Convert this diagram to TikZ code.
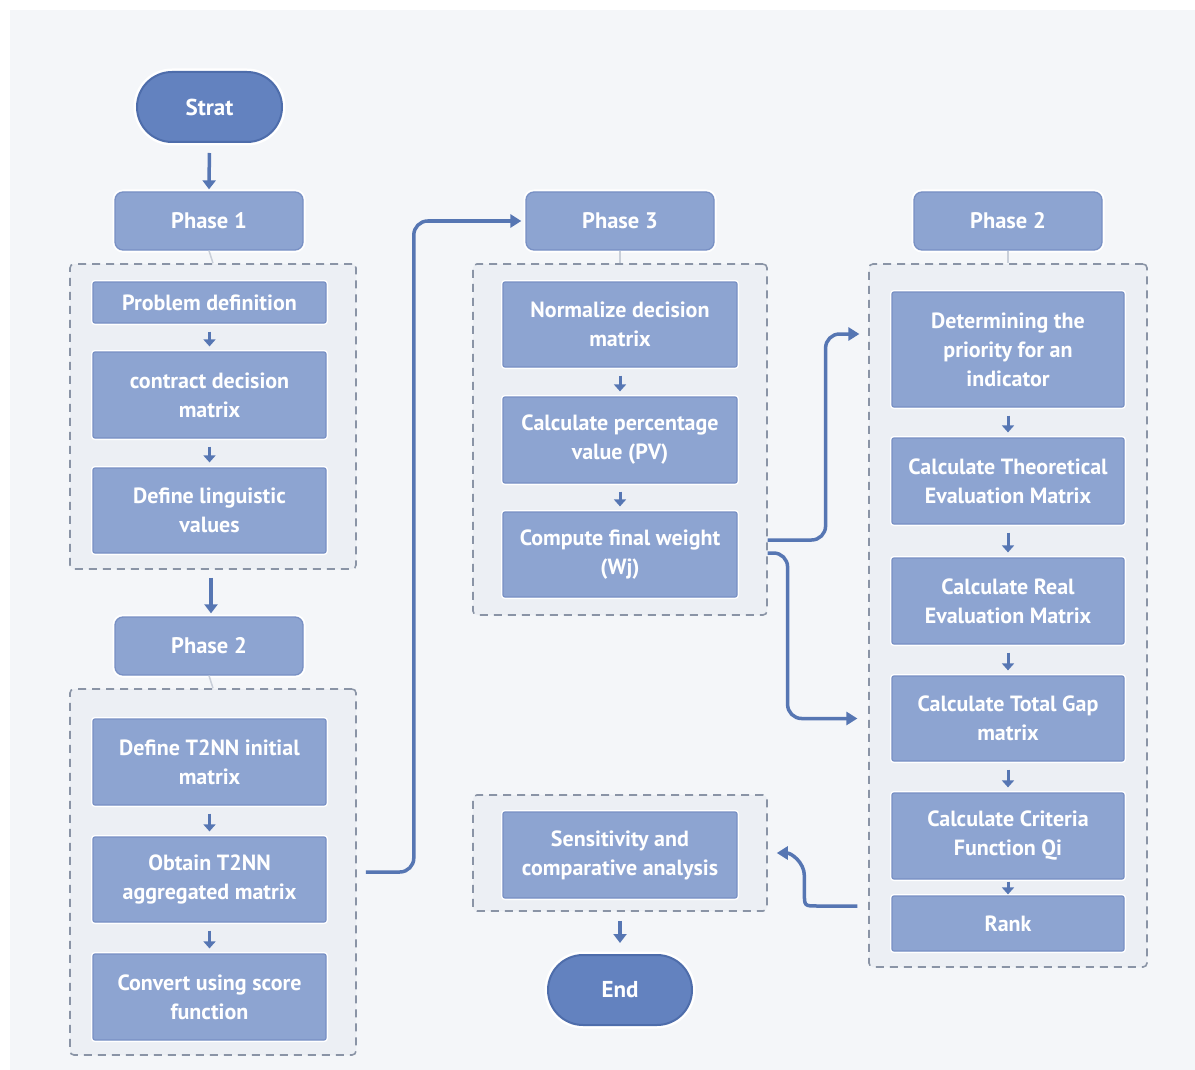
\documentclass[tikz,border=0pt]{standalone}
\usepackage{fontspec}
\setmainfont{PT Sans}
\usetikzlibrary{arrows.meta,calc}
\definecolor{bgc}{HTML}{F4F6F9}
\definecolor{contfill}{HTML}{ECEFF4}
\definecolor{contdraw}{HTML}{8A94A6}
\definecolor{boxfill}{HTML}{8DA4D1}
\definecolor{boxdraw}{HTML}{7890C4}
\definecolor{termfill}{HTML}{6382BF}
\definecolor{termdraw}{HTML}{4E6DAB}
\definecolor{arrc}{HTML}{5676B3}
\definecolor{faint}{HTML}{C9CFD9}
\begin{document}
\begin{tikzpicture}[x=1pt,y=-1pt,
  container/.style={draw=contdraw,fill=contfill,line width=1.6pt,dash pattern=on 8pt off 6pt,rounded corners=4pt,inner sep=0pt},
  phasebox/.style={fill=boxfill,draw=boxdraw,line width=1.3pt,rounded corners=8pt,minimum width=188pt,minimum height=58pt,inner sep=0pt,text=white,font=\fontsize{22.5}{26}\selectfont\bfseries,preaction={draw=white,line width=5pt}},
  stepbox/.style={fill=boxfill,draw=boxdraw,line width=1.2pt,rounded corners=2pt,inner sep=0pt,text=white,align=center,font=\fontsize{22}{29}\selectfont\bfseries,preaction={draw=white,line width=4pt}},
  lbox/.style={stepbox,minimum width=233pt},
  mbox/.style={stepbox,minimum width=234pt},
  rbox/.style={stepbox,minimum width=232pt},
  term/.style={fill=termfill,draw=termdraw,line width=2pt,rounded corners=35pt,minimum width=145pt,minimum height=70pt,inner sep=0pt,text=white,font=\fontsize{23}{26}\selectfont\bfseries,preaction={draw=white,line width=7pt}},
  small/.style={draw=arrc,line width=3pt,-{Triangle[width=12pt,length=7pt]}},
  conn/.style={draw=arrc,line width=3.5pt,-{Triangle[width=13pt,length=11pt]}},
  fline/.style={draw=faint,line width=1.5pt}
]
\useasboundingbox (0,0) rectangle (1195,1070);
\fill[white] (0,0) rectangle (1195,1070);
\fill[bgc] (10,10) rectangle (1195,1070);

% containers
\node[container,minimum width=286pt,minimum height=305pt] (c1) at (213,416.5) {};
\node[container,minimum width=286pt,minimum height=366pt] (c2) at (213,872) {};
\node[container,minimum width=294pt,minimum height=351pt] (c3) at (620,439.5) {};
\node[container,minimum width=278pt,minimum height=703pt] (c4) at (1008,615.5) {};
\node[container,minimum width=294pt,minimum height=116pt] (c5) at (620,853) {};

% terminals
\node[term] (strat) at (209.5,107) {Strat};
\node[term,minimum width=144pt] (endn) at (620,990) {End};

% phases
\node[phasebox] (p1) at (209,221) {Phase 1};
\node[phasebox] (p2a) at (209,646) {Phase 2};
\node[phasebox] (p3) at (620,221) {Phase 3};
\node[phasebox] (p2b) at (1008,221) {Phase 2};

% left column
\node[lbox,minimum height=41pt] (pd) at (209.5,302.5) {Problem definition};
\node[lbox,minimum height=86pt] (cdm) at (209.5,395) {contract decision\\matrix};
\node[lbox,minimum height=85pt] (dlv) at (209.5,510.5) {Define linguistic\\values};
\node[lbox,minimum height=86pt] (dti) at (209.5,762) {Define T2NN initial\\matrix};
\node[lbox,minimum height=85pt] (ota) at (209.5,879.5) {Obtain T2NN\\aggregated matrix};
\node[lbox,minimum height=86pt] (cus) at (209.5,997) {Convert using score\\function};

% middle column
\node[mbox,minimum height=85pt] (ndm) at (620,324.5) {Normalize decision\\matrix};
\node[mbox,minimum height=86pt] (cpv) at (620,440) {Calculate percentage\\value (PV)};
\node[mbox,minimum height=85pt] (cfw) at (620,554.5) {Compute final weight\\(Wj)};
\node[mbox,minimum height=86pt] (sca) at (620,855) {Sensitivity and\\comparative analysis};

% right column
\node[rbox,minimum height=115pt] (dp) at (1008,349.5) {Determining the\\priority for an\\indicator};
\node[rbox,minimum height=86pt] (cte) at (1008,481) {Calculate Theoretical\\Evaluation Matrix};
\node[rbox,minimum height=86pt] (cre) at (1008,601) {Calculate Real\\Evaluation Matrix};
\node[rbox,minimum height=85pt] (ctg) at (1008,718.5) {Calculate Total Gap\\matrix};
\node[rbox,minimum height=86pt] (ccf) at (1008,836) {Calculate Criteria\\Function Qi};
\node[rbox,minimum height=55pt] (rank) at (1008,923.5) {Rank};

% faint links phase -> container
\draw[fline] (p1.south) -- (c1.north);
\draw[fline] (p2a.south) -- (c2.north);
\draw[fline] (p3.south) -- (c3.north);
\draw[fline] (p2b.south) -- (c4.north);

% main arrows
\draw[small,line width=3.5pt,-{Triangle[width=13pt,length=9pt]},shorten <=10pt,shorten >=2pt] (strat.south) -- (p1.north);
\draw[small,line width=3.5pt,-{Triangle[width=13pt,length=9pt]},shorten <=8pt,shorten >=3pt] ([xshift=-2pt]c1.south) -- ([xshift=2pt]p2a.north);
\draw[small,line width=3.5pt,-{Triangle[width=13pt,length=9pt]},shorten <=9pt,shorten >=11pt] (c5.south) -- (endn.north);

% small arrows
\foreach \a/\b in {pd/cdm,cdm/dlv,dti/ota,ota/cus,ndm/cpv,cpv/cfw,dp/cte,cte/cre,cre/ctg,ctg/ccf}
  \draw[small,shorten <=8pt,shorten >=5pt] (\a.south) -- (\b.north);
\draw[small,shorten <=2pt,shorten >=1pt] (ccf.south) -- (rank.north);

% long connectors
\draw[conn,rounded corners=14pt] ([xshift=9pt]c2.east) -- ++(48,0) |- ([xshift=-4pt]p3.west);
\draw[conn,rounded corners=14pt] ([xshift=30pt,yshift=14.5pt]cfw.east) -- ++(58,0) |- ($(dp.west)+(-32,-15.5)$);
\draw[conn,rounded corners=14pt] ([xshift=30pt,yshift=1.5pt]cfw.east) -- ++(20,0) |- ([xshift=-34pt]ctg.west);
\draw[conn] ([xshift=-34pt,yshift=17.5pt]rank.west) -- ++(-40,0) .. controls +(-13,0) .. ++(-13,-13) -- ++(0,-17) .. controls +(0,-14) and +(14,0) .. ([xshift=9pt]c5.east);
\end{tikzpicture}
\end{document}
